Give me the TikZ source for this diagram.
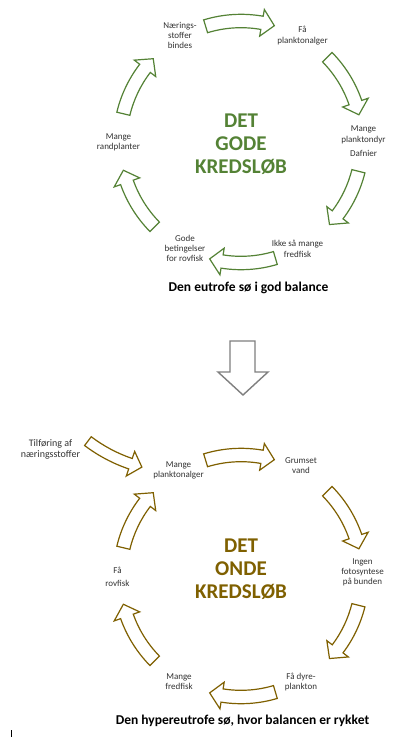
\documentclass[tikz,border=0pt]{standalone}
\usepackage{fontspec}
\setmainfont{Carlito}
\definecolor{gd}{HTML}{548235}
\definecolor{gl}{HTML}{7F6000}
\definecolor{ar}{HTML}{7F7F7F}
\definecolor{tx}{HTML}{333333}
\newcommand{\cycarrow}[8]{%
  \draw[#1,shift={(#2)}] ({#4}:{#3+#7}) arc[start angle={#4}, end angle={#5}, radius={#3+#7}]
    -- ({#5}:{#3+#8}) -- ({#6}:{#3}) -- ({#5}:{#3-#8}) -- ({#5}:{#3-#7})
    arc[start angle={#5}, end angle={#4}, radius={#3-#7}] -- cycle;}
\begin{document}
\begin{tikzpicture}[x=1pt,y=1pt,
  lab/.style={font=\fontsize{9}{10}\selectfont, text=tx, align=center, inner sep=0pt},
  ttl/.style={font=\fontsize{21}{23}\selectfont\bfseries, align=center, inner sep=0pt},
  captxt/.style={font=\fontsize{13.5}{15}\selectfont\bfseries, text=black, inner sep=0pt, anchor=base},
  garrow/.style={draw=gd, line width=1.2pt, fill=white, line join=miter},
  oarrow/.style={draw=gl, line width=1.2pt, fill=white, line join=miter}]
\useasboundingbox (0,0) rectangle (412,-737);
\fill[white] (0,0) rectangle (412,-737);
\coordinate (tc) at (241,-142);
\coordinate (bc) at (241,-576);
\coordinate (ac) at (179.3,-320.3);

% top cycle arrows
\cycarrow{garrow}{tc}{121}{107}{80}{74}{6.7}{13.5}
\cycarrow{garrow}{tc}{121}{44.5}{19}{13}{6.7}{13.5}
\cycarrow{garrow}{tc}{121}{-14}{-37}{-43}{6.7}{13.5}
\cycarrow{garrow}{tc}{121}{-73.5}{-99}{-105}{6.7}{13.5}
\cycarrow{garrow}{tc}{121}{-135.5}{-160.5}{-166.5}{6.7}{13.5}
\cycarrow{garrow}{tc}{121}{-193.5}{-217.5}{-223.5}{6.7}{13.5}

% bottom cycle arrows
\cycarrow{oarrow}{bc}{121}{107}{80}{74}{6.7}{13.5}
\cycarrow{oarrow}{bc}{121}{44.5}{19}{13}{6.7}{13.5}
\cycarrow{oarrow}{bc}{121}{-14}{-37}{-43}{6.7}{13.5}
\cycarrow{oarrow}{bc}{121}{-73.5}{-99}{-105}{6.7}{13.5}
\cycarrow{oarrow}{bc}{121}{-135.5}{-160.5}{-166.5}{6.7}{13.5}
\cycarrow{oarrow}{bc}{121}{-193.5}{-217.5}{-223.5}{6.7}{13.5}
\cycarrow{oarrow}{ac}{151.5}{-127.1}{-108.8}{-104.3}{5.5}{13}

% top labels
\node[lab] (nb) at (180,-35) {Nærings-\\stoffer\\bindes};
\node[lab, font=\fontsize{9}{11}\selectfont] (fp) at (302.5,-36) {Få\\planktonalger};
\node[lab, font=\fontsize{9}{11}\selectfont] (mp) at (363.5,-141) {Mange\\planktondyr\\[3pt]Dafnier};
\node[lab, font=\fontsize{9}{11}\selectfont] (ik) at (297.5,-249) {Ikke så mange\\fredfisk};
\node[lab] (gb) at (185,-248.5) {Gode\\betingelser\\for rovfisk};
\node[lab] (mr) at (118.5,-142) {Mange\\randplanter};
\node[ttl, text=gd] (t1) at (241,-144.5) {DET\\GODE\\KREDSLØB};
\node[captxt] (c1) at (248.5,-291.7) {Den eutrofe sø i god balance};

% big down arrow
\draw[draw=ar, line width=1.4pt, fill=white, line join=miter]
  (230,-341) -- (255,-341) -- (255,-372) -- (268,-372) -- (243,-395) -- (218,-372) -- (230,-372) -- cycle;

% bottom labels
\node[lab, font=\fontsize{10}{11}\selectfont] (tf) at (50.5,-449) {Tilføring af\\næringsstoffer};
\node[lab] (mpa) at (178.5,-470.5) {Mange\\planktonalger};
\node[lab] (gv) at (301,-466) {Grumset\\vand};
\node[lab] (ifo) at (362.5,-572) {Ingen\\fotosyntese\\på bunden};
\node[lab] (fd) at (301,-682.5) {Få dyre-\\plankton};
\node[lab] (mf) at (179,-682) {Mange\\fredfisk};
\node[lab, font=\fontsize{9}{13}\selectfont] (fr) at (117.5,-577) {Få\\rovfisk};
\node[ttl, text=gl] (t2) at (241,-569) {DET\\ONDE\\KREDSLØB};
\node[captxt] (c2) at (242.5,-724.5) {Den hypereutrofe sø, hvor balancen er rykket};

% text cursor
\draw[line width=0.8pt] (11,-730) -- (11,-737);
\end{tikzpicture}
\end{document}
